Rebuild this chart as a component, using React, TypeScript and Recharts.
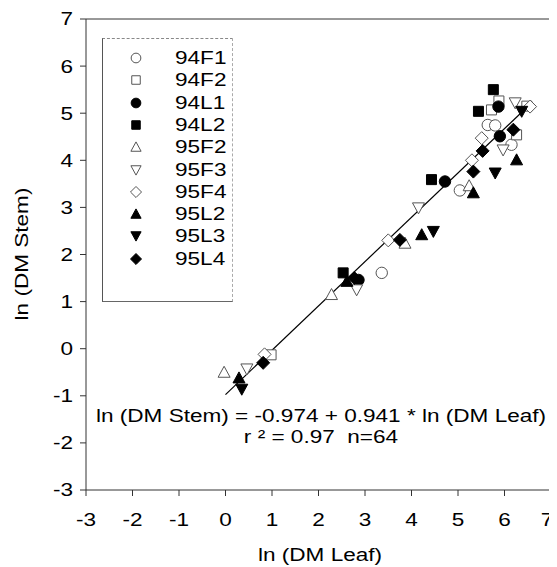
import React from 'react';
import { ScatterChart, Scatter, XAxis, YAxis, ReferenceLine, Legend, Customized } from 'recharts';

// ---- data (ln DM Leaf, ln DM Stem) ----
const d94F1 = [
  { x: 3.36, y: 1.61 }, { x: 5.04, y: 3.36 }, { x: 5.64, y: 4.75 }, { x: 5.8, y: 4.74 }, { x: 6.15, y: 4.33 },
];
const d94F2 = [
  { x: 0.98, y: -0.13 }, { x: 5.72, y: 5.07 }, { x: 5.88, y: 5.26 }, { x: 6.26, y: 4.54 }, { x: 6.48, y: 5.15 },
];
const d94L1 = [
  { x: 2.86, y: 1.46 }, { x: 4.72, y: 3.55 }, { x: 5.87, y: 5.14 }, { x: 5.9, y: 4.51 },
];
const d94L2 = [
  { x: 2.53, y: 1.61 }, { x: 4.43, y: 3.59 }, { x: 5.44, y: 5.04 }, { x: 5.76, y: 5.5 },
];
const d95F2 = [
  { x: -0.03, y: -0.5 }, { x: 2.28, y: 1.15 }, { x: 3.86, y: 2.24 }, { x: 5.24, y: 3.46 },
];
const d95F3 = [
  { x: 0.46, y: -0.43 }, { x: 2.82, y: 1.25 }, { x: 4.15, y: 2.99 }, { x: 5.97, y: 4.22 }, { x: 6.23, y: 5.22 },
];
const d95F4 = [
  { x: 0.84, y: -0.12 }, { x: 3.5, y: 2.3 }, { x: 5.3, y: 4.0 }, { x: 5.51, y: 4.47 }, { x: 6.55, y: 5.14 },
];
const d95L2 = [
  { x: 0.29, y: -0.62 }, { x: 2.61, y: 1.43 }, { x: 4.22, y: 2.42 }, { x: 5.33, y: 3.31 }, { x: 6.26, y: 4.01 },
];
const d95L3 = [
  { x: 0.35, y: -0.86 }, { x: 4.47, y: 2.49 }, { x: 5.8, y: 3.73 }, { x: 6.37, y: 5.04 },
];
const d95L4 = [
  { x: 0.81, y: -0.3 }, { x: 2.77, y: 1.5 }, { x: 3.75, y: 2.31 }, { x: 5.33, y: 3.76 }, { x: 5.53, y: 4.2 }, { x: 6.19, y: 4.65 },
];

const seriesNames = ['94F1', '94F2', '94L1', '94L2', '95F2', '95F3', '95F4', '95L2', '95L3', '95L4'];
const seriesKinds = ['circle', 'square', 'circle', 'square', 'up', 'down', 'diamond', 'up', 'down', 'diamond'];
const seriesFilled = [false, false, true, true, false, false, false, true, true, true];
const seriesData = [d94F1, d94F2, d94L1, d94L2, d95F2, d95F3, d95F4, d95L2, d95L3, d95L4];

const axisTicks = [-3, -2, -1, 0, 1, 2, 3, 4, 5, 6, 7];
const intercept = -0.974;
const slope = 0.941;
const lineX0 = 0;
const lineX1 = 6.55;
const eqLine1 = 'ln (DM Stem) = -0.974 + 0.941 * ln (DM Leaf)';
const eqLine2 = 'r \u00B2 = 0.97  n=64';

const FONT = '"Liberation Sans", Arial, Helvetica, sans-serif';
const FS = 18.5;
const SX = 1.22;

function markerPath(kind: string, cx: number, cy: number, s = 1) {
  switch (kind) {
    case 'square':
      return `M${cx - 5 * s},${cy - 5 * s}h${10 * s}v${10 * s}h${-10 * s}Z`;
    case 'up':
      return `M${cx},${cy - 6 * s}L${cx + 6 * s},${cy + 5 * s}L${cx - 6 * s},${cy + 5 * s}Z`;
    case 'down':
      return `M${cx},${cy + 6 * s}L${cx + 6 * s},${cy - 5 * s}L${cx - 6 * s},${cy - 5 * s}Z`;
    case 'diamond':
      return `M${cx},${cy - 6.5 * s}L${cx + 6.5 * s},${cy}L${cx},${cy + 6.5 * s}L${cx - 6.5 * s},${cy}Z`;
    default:
      return '';
  }
}

function Marker({ cx, cy, kind, filled, s = 1 }: any) {
  const fill = filled ? '#000' : '#fff';
  const stroke = filled ? '#000' : '#555';
  if (cx == null || cy == null) return null;
  if (kind === 'circle') {
    return <circle cx={cx} cy={cy} r={5.7 * s} fill={fill} stroke={stroke} strokeWidth={1} />;
  }
  return <path d={markerPath(kind, cx, cy, s)} fill={fill} stroke={stroke} strokeWidth={1} />;
}

const XTick = ({ x, payload }: any) => (
  <g transform={`translate(${payload.value === 7 ? x - 4 : x},518)`}>
    <text transform={`scale(${SX},1)`} textAnchor="middle" fontFamily={FONT} fontSize={FS} fill="#000">
      {payload.value}
    </text>
  </g>
);

const YTick = ({ y, payload }: any) => (
  <g transform={`translate(65,${y})`}>
    <text transform={`scale(${SX},1)`} textAnchor="end" dy="0.35em" fontFamily={FONT} fontSize={FS} fill="#000">
      {payload.value}
    </text>
  </g>
);

const Extras = () => (
  <g>
    <g transform="translate(312,547)">
      <text transform={`scale(${SX},1)`} textAnchor="middle" dy="0.35em" fontFamily={FONT} fontSize={FS} fill="#000">
        ln (DM Leaf)
      </text>
    </g>
    <g transform="translate(14,246) rotate(-90)">
      <text transform={`scale(${SX},1)`} textAnchor="middle" dy="0.35em" fontFamily={FONT} fontSize={FS} fill="#000">
        ln (DM Stem)
      </text>
    </g>
    <g transform="translate(313,408)">
      <text transform={`scale(${SX},1)`} textAnchor="middle" dy="0.35em" fontFamily={FONT} fontSize={FS} fill="#000">
        {eqLine1}
      </text>
    </g>
    <g transform="translate(313,429)">
      <text transform={`scale(${SX},1)`} textAnchor="middle" dy="0.35em" fontFamily={FONT} fontSize={FS} fill="#000" style={{ whiteSpace: 'pre' }}>
        {eqLine2}
      </text>
    </g>
  </g>
);

const LegendBox = () => (
  <div
    style={{
      position: 'relative',
      width: 131,
      height: 264,
      borderTop: '1px dashed #888',
      borderRight: '1px dashed #aaa',
      borderBottom: '1px solid #666',
      borderLeft: '1px solid #555',
      boxSizing: 'border-box',
      background: 'transparent',
    }}
  >
    {seriesNames.map((n, i) => (
      <div key={n} style={{ position: 'absolute', left: 0, top: 19 + 22.3 * i - 11, height: 22, width: 131 }}>
        <svg width={20} height={22} style={{ position: 'absolute', left: 23, top: 0 }}>
          <Marker cx={10} cy={11} kind={seriesKinds[i]} filled={seriesFilled[i]} s={0.85} />
        </svg>
        <span
          style={{
            position: 'absolute',
            left: 72,
            top: 0,
            lineHeight: '22px',
            fontFamily: FONT,
            fontSize: FS,
            color: '#000',
            display: 'inline-block',
            transform: `scaleX(${SX})`,
            transformOrigin: 'left center',
            whiteSpace: 'nowrap',
          }}
        >
          {n}
        </span>
      </div>
    ))}
  </div>
);

export default function App() {
  return (
    <ScatterChart width={549} height={559} margin={{ top: 11, right: 6, bottom: 0, left: 0 }}>
      <XAxis
        type="number"
        dataKey="x"
        domain={[-3, 7]}
        ticks={axisTicks}
        interval={0}
        height={77}
        tick={<XTick />}
        tickSize={6}
        stroke="#333"
        allowDataOverflow
      />
      <YAxis
        type="number"
        dataKey="y"
        domain={[-3, 7]}
        ticks={axisTicks}
        interval={0}
        width={78}
        tick={<YTick />}
        tickSize={6}
        stroke="#333"
        allowDataOverflow
      />
      <ReferenceLine y={7} stroke="#333" strokeWidth={1} />
      <ReferenceLine x={7} stroke="#333" strokeWidth={1} />
      <ReferenceLine
        segment={[
          { x: lineX0, y: intercept + slope * lineX0 },
          { x: lineX1, y: intercept + slope * lineX1 },
        ]}
        stroke="#000"
        strokeWidth={1.2}
      />
      {seriesNames.map((n, i) => (
        <Scatter
          key={n}
          name={n}
          data={seriesData[i]}
          isAnimationActive={false}
          shape={(p: any) => <Marker cx={p.cx} cy={p.cy} kind={seriesKinds[i]} filled={seriesFilled[i]} />}
        />
      ))}
      <Legend
        layout="vertical"
        align="center"
        verticalAlign="middle"
        content={() => <LegendBox />}
        wrapperStyle={{ position: 'absolute', left: 94, top: 30, width: 131, height: 264 }}
      />
      <Customized component={Extras} />
    </ScatterChart>
  );
}
